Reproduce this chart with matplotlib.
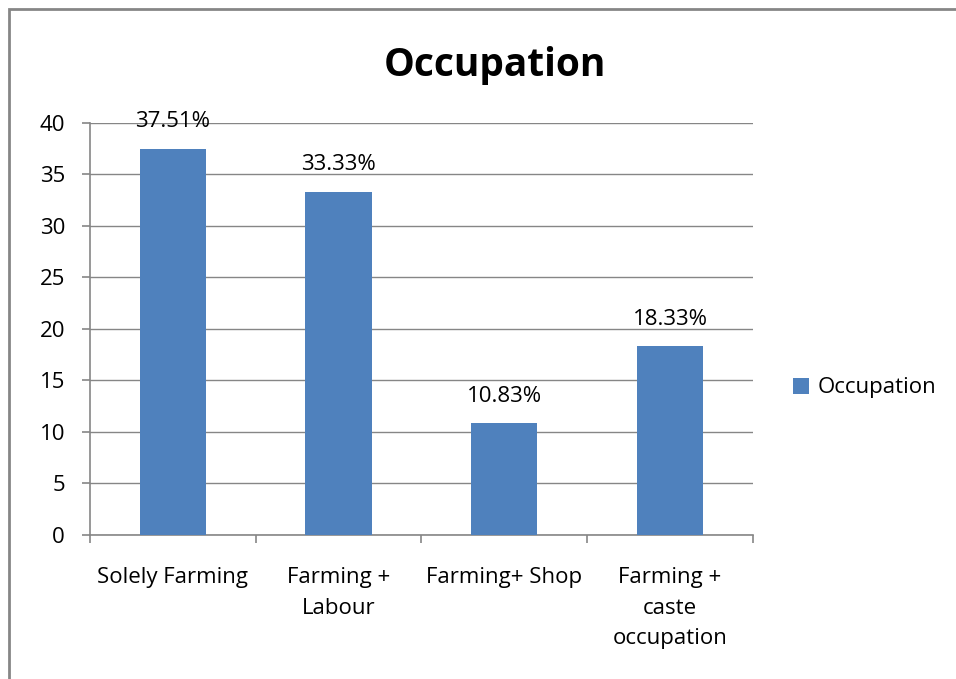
import matplotlib.pyplot as plt
from matplotlib.patches import Rectangle

categories = ['Solely Farming', 'Farming +\nLabour', 'Farming+ Shop', 'Farming +\ncaste\noccupation']
values = [37.51, 33.33, 10.83, 18.33]
labels = ['37.51%', '33.33%', '10.83%', '18.33%']

plt.rcParams['font.family'] = ['Open Sans', 'DejaVu Sans']
fs = 16

fig = plt.figure(figsize=(9.56, 6.79), dpi=100)
ax = fig.add_axes([0.0941, 0.2121, 0.6935, 0.6068])

pos = [i + 0.5 for i in range(len(values))]
bars = ax.bar(pos, values, width=0.4, color='#4F81BD', label='Occupation', zorder=3)
for b, t in zip(bars, labels):
    ax.annotate(t, (b.get_x() + b.get_width() / 2, b.get_height()),
                xytext=(0, 19.5), textcoords='offset points',
                ha='center', va='center', fontsize=fs, zorder=4)

ax.set_xlim(0, 4)
ax.set_ylim(0, 40)
ax.set_yticks(range(0, 41, 5))
ax.set_xticks(range(0, 5))
ax.set_xticklabels([])
ax.set_xticks(pos, minor=True)
ax.set_xticklabels(categories, minor=True, fontsize=fs, linespacing=1.6, va='top')
ax.tick_params(axis='x', which='minor', length=0, pad=23)
ax.tick_params(axis='x', which='major', length=6, width=1.2, color='#868686', direction='out')
ax.tick_params(axis='y', length=6, width=1.2, color='#868686', labelsize=fs, pad=12)

ax.grid(axis='y', color='#868686', linewidth=1, zorder=0)
for s in ['top', 'right']:
    ax.spines[s].set_visible(False)
for s in ['left', 'bottom']:
    ax.spines[s].set_color('#868686')
    ax.spines[s].set_linewidth(1.2)

fig.text(0.518, 0.904, 'Occupation', ha='center', va='center', fontsize=28, fontweight='bold')

ax.legend(loc='center left', bbox_to_anchor=(793 / 956, 1 - 388 / 679),
          bbox_transform=fig.transFigure, frameon=False, fontsize=fs,
          handlelength=0.7, handleheight=0.7, handletextpad=0.4, borderpad=0, borderaxespad=0)

fig.patches.append(Rectangle((9 / 956, -0.2), 2, 1.2 - 9 / 679, transform=fig.transFigure,
                             fill=False, edgecolor='#868686', linewidth=2))

fig.savefig('out.png', dpi=100)
